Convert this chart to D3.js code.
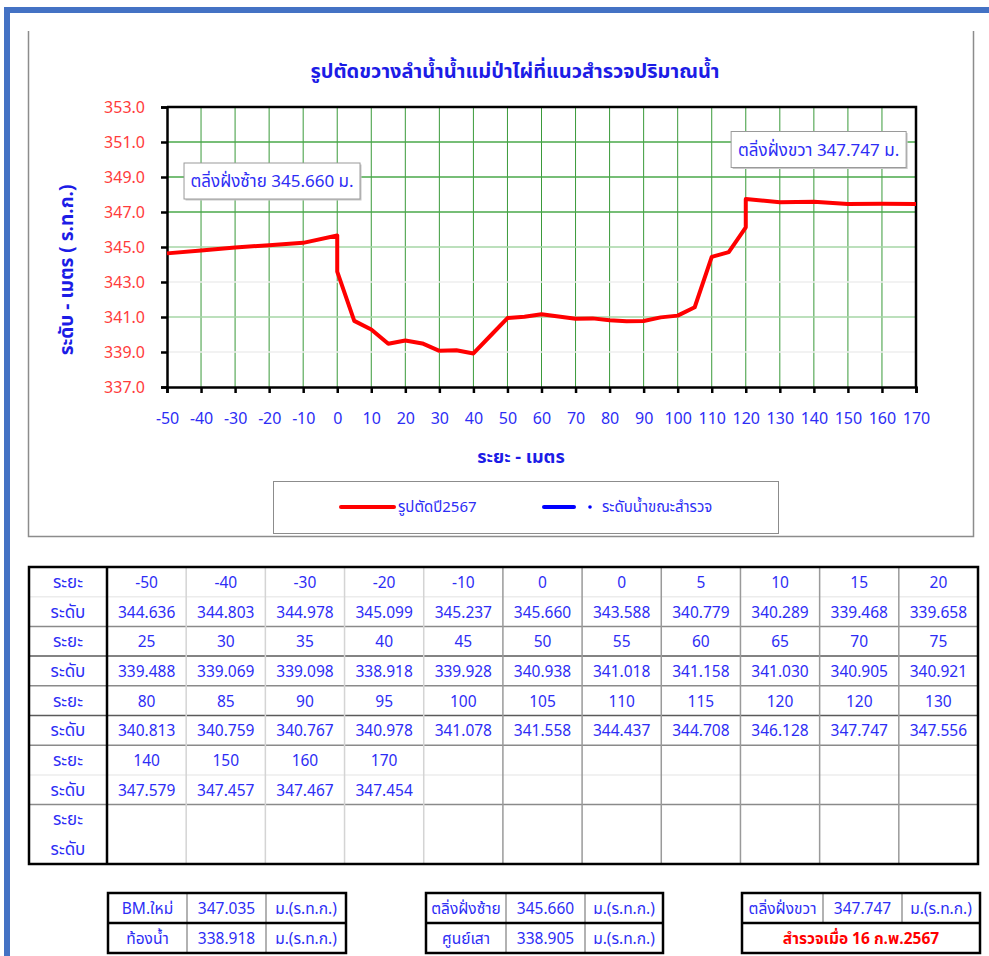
<!DOCTYPE html>
<html>
<head>
<meta charset="utf-8">
<script src="https://cdn.jsdelivr.net/npm/d3@7"></script>
<style>
body { margin: 0; background: #ffffff; }
svg text { font-family: Tahoma, "Noto Sans Thai", "Noto Sans", "DejaVu Sans", sans-serif; }
</style>
</head>
<body>
<svg id="chart" width="989" height="956"></svg>
<script>
// Survey points across the stream (distance in m, elevation in m MSL)
var distances = [-50, -40, -30, -20, -10, 0, 0, 5, 10, 15, 20,
                 25, 30, 35, 40, 45, 50, 55, 60, 65, 70, 75,
                 80, 85, 90, 95, 100, 105, 110, 115, 120, 120, 130,
                 140, 150, 160, 170];
var elevations = [344.636, 344.803, 344.978, 345.099, 345.237, 345.660, 343.588, 340.779, 340.289, 339.468, 339.658,
                  339.488, 339.069, 339.098, 338.918, 339.928, 340.938, 341.018, 341.158, 341.030, 340.905, 340.921,
                  340.813, 340.759, 340.767, 340.978, 341.078, 341.558, 344.437, 344.708, 346.128, 347.747, 347.556,
                  347.579, 347.457, 347.467, 347.454];

var xTicks = [-50, -40, -30, -20, -10, 0, 10, 20, 30, 40, 50, 60, 70, 80, 90, 100, 110, 120, 130, 140, 150, 160, 170];
var yTicks = [337, 339, 341, 343, 345, 347, 349, 351, 353];

var chartTitle = "รูปตัดขวางลำน้ำน้ำแม่ป่าไผ่ที่แนวสำรวจปริมาณน้ำ";
var xTitle = "ระยะ - เมตร";
var yTitle = "ระดับ - เมตร ( ร.ท.ก.)";
var leftBankNote = "ตลิ่งฝั่งซ้าย 345.660 ม.";
var rightBankNote = "ตลิ่งฝั่งขวา 347.747 ม.";
var seriesNames = ["รูปตัดปี2567", "ระดับน้ำขณะสำรวจ"];
var rowLabels = ["ระยะ", "ระดับ"];

var summaryBM = [["BM.ใหม่", "347.035", "ม.(ร.ท.ก.)"], ["ท้องน้ำ", "338.918", "ม.(ร.ท.ก.)"]];
var summaryLeft = [["ตลิ่งฝั่งซ้าย", "345.660", "ม.(ร.ท.ก.)"], ["ศูนย์เสา", "338.905", "ม.(ร.ท.ก.)"]];
var summaryRight = [["ตลิ่งฝั่งขวา", "347.747", "ม.(ร.ท.ก.)"]];
var surveyDate = "สำรวจเมื่อ 16 ก.พ.2567";

var BLUE = "#2d2df5";
var RED = "#ff0000";

var svg = d3.select("#chart");

// page frame (blue bars top and left)
svg.append("rect").attr("x", 4).attr("y", 7).attr("width", 985).attr("height", 6).attr("fill", "#4472c4");
svg.append("rect").attr("x", 4).attr("y", 7).attr("width", 6).attr("height", 949).attr("fill", "#4472c4");

// chart box (no top edge visible)
svg.append("path")
	.attr("d", "M28.5,31 V536.5 H973.5 V31")
	.attr("fill", "none")
	.attr("stroke", "#8c8c8c")
	.attr("stroke-width", 1.5);

var x = d3.scaleLinear().domain([-50, 170]).range([167, 916]);
var y = d3.scaleLinear().domain([337, 353]).range([387, 107]);

// grid
svg.append("g")
	.selectAll("line")
	.data(xTicks.slice(1, -1))
	.enter().append("line")
	.attr("x1", function(d) { return x(d); })
	.attr("x2", function(d) { return x(d); })
	.attr("y1", y(353))
	.attr("y2", y(337))
	.attr("stroke", "#3a9a3a")
	.attr("stroke-width", 1);

svg.append("g")
	.selectAll("line")
	.data(yTicks.slice(1, -1))
	.enter().append("line")
	.attr("x1", x(-50))
	.attr("x2", x(170))
	.attr("y1", function(d) { return y(d); })
	.attr("y2", function(d) { return y(d); })
	.attr("stroke", function(d) {
		// excel render: upper lines darker, some lower ones almost gone
		if(d >= 347) return "#4aa84a";
		if(d === 345 || d === 341) return "#a6d6a6";
		return "#eeeeee";
	})
	.attr("stroke-width", 1.5);

// axes
var yAxis = svg.append("g")
	.attr("transform", "translate(" + x(-50) + ",0)")
	.call(d3.axisLeft(y).tickValues(yTicks).tickFormat(d3.format(".1f")).tickSize(6).tickPadding(16));
yAxis.selectAll("text").attr("fill", "#ff3b3b").attr("font-size", 16);

var xAxis = svg.append("g")
	.attr("transform", "translate(0," + y(337) + ")")
	.call(d3.axisBottom(x).tickValues(xTicks).tickSize(6).tickPadding(20));
xAxis.selectAll("text").attr("fill", BLUE).attr("font-size", 16);

svg.selectAll(".domain, .tick line").attr("stroke", "#000").attr("stroke-width", 2.5);

// top and right edge of the plot
svg.append("path")
	.attr("d", "M" + x(-50) + "," + y(353) + " H" + x(170) + " V" + y(337))
	.attr("fill", "none")
	.attr("stroke", "#000")
	.attr("stroke-width", 2.5);

// cross-section line
var line = d3.line()
	.x(function(d, i) { return x(distances[i]); })
	.y(function(d) { return y(d); });

svg.append("path")
	.datum(elevations)
	.attr("d", line)
	.attr("fill", "none")
	.attr("stroke", RED)
	.attr("stroke-width", 4)
	.attr("stroke-linejoin", "round");

// titles
svg.append("text")
	.attr("x", 515).attr("y", 78)
	.attr("text-anchor", "middle")
	.attr("font-size", 20).attr("font-weight", "bold")
	.attr("fill", "#1c1ce6")
	.text(chartTitle);

svg.append("text")
	.attr("x", 521).attr("y", 463)
	.attr("text-anchor", "middle")
	.attr("font-size", 18).attr("font-weight", "bold")
	.attr("fill", "#1c1ce6")
	.text(xTitle);

svg.append("text")
	.attr("transform", "translate(73,270) rotate(-90)")
	.attr("text-anchor", "middle")
	.attr("font-size", 19).attr("font-weight", "bold")
	.attr("fill", "#1c1ce6")
	.text(yTitle);

// bank notes
function note(x0, y0, w, h, label) {
	svg.append("rect")
		.attr("x", x0 + 1.5).attr("y", y0 + 1.5).attr("width", w).attr("height", h)
		.attr("fill", "#c8c8c8");
	svg.append("rect")
		.attr("x", x0).attr("y", y0).attr("width", w).attr("height", h)
		.attr("fill", "#fff").attr("stroke", "#9a9a9a");
	svg.append("text")
		.attr("x", x0 + w / 2).attr("y", y0 + h / 2 + 6)
		.attr("text-anchor", "middle")
		.attr("font-size", 17)
		.attr("fill", BLUE)
		.text(label);
}
note(x(-45), y(349.8), 176, 36, leftBankNote);
note(x(115.7), y(351.6), 175, 36, rightBankNote);

// legend
var legend = svg.append("g");
legend.append("rect")
	.attr("x", 273.5).attr("y", 481.5).attr("width", 505).attr("height", 52)
	.attr("fill", "#fff").attr("stroke", "#8c8c8c");
legend.append("line")
	.attr("x1", 341).attr("x2", 394).attr("y1", 507).attr("y2", 507)
	.attr("stroke", RED).attr("stroke-width", 4).attr("stroke-linecap", "round");
legend.append("text")
	.attr("x", 398).attr("y", 512).attr("font-size", 15).attr("fill", BLUE)
	.text(seriesNames[0]);
legend.append("line")
	.attr("x1", 544).attr("x2", 574).attr("y1", 507).attr("y2", 507)
	.attr("stroke", "#0000ff").attr("stroke-width", 4).attr("stroke-linecap", "round");
legend.append("circle")
	.attr("cx", 590).attr("cy", 507).attr("r", 1.8).attr("fill", "#0000ff");
legend.append("text")
	.attr("x", 602).attr("y", 512).attr("font-size", 15).attr("fill", BLUE)
	.text(seriesNames[1]);

// data table: pairs of rows, 11 points per pair
var perRow = 11;
var pairCount = 5;
var tableTop = 567, tableLeft = 29, labelW = 78, tableRight = 978, tableBottom = 864;
var rowH = (tableBottom - tableTop) / (pairCount * 2);
var colScale = d3.scaleBand().domain(d3.range(perRow)).range([tableLeft + labelW, tableRight]);

var table = svg.append("g");

for(var p = 0; p < pairCount; p++) {
	// separators: within a pair, then under the pair
	if(p < pairCount - 1) {
		var inner = (p === 1 || p === 2) ? "#5a5a5a" : "#ececec";
		table.append("line")
			.attr("x1", tableLeft).attr("x2", tableRight)
			.attr("y1", tableTop + (2 * p + 1) * rowH).attr("y2", tableTop + (2 * p + 1) * rowH)
			.attr("stroke", inner).attr("stroke-width", 1.5);
		table.append("line")
			.attr("x1", tableLeft).attr("x2", tableRight)
			.attr("y1", tableTop + (2 * p + 2) * rowH).attr("y2", tableTop + (2 * p + 2) * rowH)
			.attr("stroke", "#8a8a8a").attr("stroke-width", 1.5);
	}
	for(var r = 0; r < 2; r++) {
		var rowY = tableTop + (2 * p + r) * rowH;
		table.append("text")
			.attr("x", tableLeft + labelW / 2).attr("y", rowY + rowH / 2 + 6)
			.attr("text-anchor", "middle").attr("font-size", 17).attr("fill", BLUE)
			.text(rowLabels[r]);
	}
	var start = p * perRow;
	var chunk = distances.slice(start, start + perRow);
	chunk.forEach(function(dist, j) {
		var cx = colScale(j) + colScale.bandwidth() / 2;
		var rowY = tableTop + 2 * p * rowH;
		table.append("text")
			.attr("x", cx).attr("y", rowY + rowH / 2 + 6)
			.attr("text-anchor", "middle").attr("font-size", 15.5).attr("fill", BLUE)
			.text(dist);
		table.append("text")
			.attr("x", cx).attr("y", rowY + rowH * 1.5 + 6)
			.attr("text-anchor", "middle").attr("font-size", 15.5).attr("fill", BLUE)
			.text(d3.format(".3f")(elevations[start + j]));
	});
}

// column separators
table.selectAll("line.col")
	.data(d3.range(1, perRow))
	.enter().append("line")
	.attr("class", "col")
	.attr("x1", function(d) { return colScale(d); })
	.attr("x2", function(d) { return colScale(d); })
	.attr("y1", tableTop).attr("y2", tableBottom)
	.attr("stroke", function(d) { return d < 5 ? "#d4d4d4" : "#9a9a9a"; })
	.attr("stroke-width", 1.5);

table.append("line")
	.attr("x1", tableLeft + labelW).attr("x2", tableLeft + labelW)
	.attr("y1", tableTop).attr("y2", tableBottom)
	.attr("stroke", "#000").attr("stroke-width", 2.5);
table.append("rect")
	.attr("x", tableLeft).attr("y", tableTop)
	.attr("width", tableRight - tableLeft).attr("height", tableBottom - tableTop)
	.attr("fill", "none").attr("stroke", "#000").attr("stroke-width", 2.5);

// small summary tables at the bottom
function summary(left, cols, rows, lastLine) {
	var top = 893, rh = 30;
	var g = svg.append("g");
	var total = cols[cols.length - 1];
	rows.forEach(function(row, i) {
		row.forEach(function(cell, j) {
			g.append("text")
				.attr("x", left + (cols[j] + cols[j + 1]) / 2)
				.attr("y", top + i * rh + rh / 2 + 6)
				.attr("text-anchor", "middle").attr("font-size", 15.5).attr("fill", BLUE)
				.text(cell);
		});
	});
	for(var j = 1; j < cols.length - 1; j++) {
		g.append("line")
			.attr("x1", left + cols[j]).attr("x2", left + cols[j])
			.attr("y1", top).attr("y2", top + rh * rows.length)
			.attr("stroke", "#999").attr("stroke-width", 1.5);
	}
	if(lastLine) {
		g.append("text")
			.attr("x", left + total / 2).attr("y", top + rh * 1.5 + 6)
			.attr("text-anchor", "middle").attr("font-size", 15.5)
			.attr("font-weight", "bold").attr("fill", RED)
			.text(lastLine);
	}
	g.append("line")
		.attr("x1", left).attr("x2", left + total)
		.attr("y1", top + rh).attr("y2", top + rh)
		.attr("stroke", "#000").attr("stroke-width", 2.5);
	g.append("rect")
		.attr("x", left).attr("y", top).attr("width", total).attr("height", rh * 2)
		.attr("fill", "none").attr("stroke", "#000").attr("stroke-width", 2.5);
}

summary(108, [0, 79, 158, 238], summaryBM, null);
summary(426, [0, 80, 159, 237], summaryLeft, null);
summary(742, [0, 81, 160, 238], summaryRight, surveyDate);
</script>
</body>
</html>
